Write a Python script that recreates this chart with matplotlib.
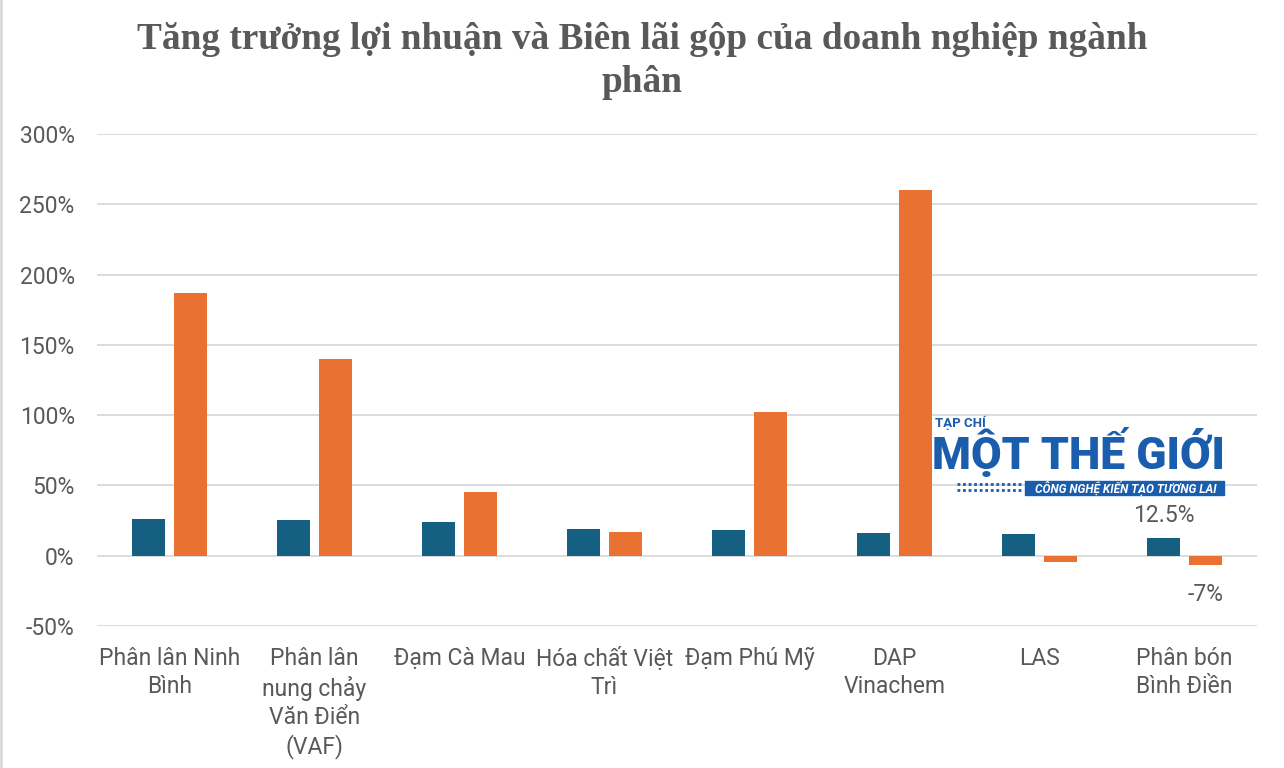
import numpy as np
import matplotlib
matplotlib.use("Agg")
import matplotlib.pyplot as plt
from matplotlib.patches import Rectangle
from matplotlib.lines import Line2D

# data (%)
categories = ["Phân lân Ninh\nBình", "Phân lân\nnung chảy\nVăn Điển\n(VAF)", "Đạm Cà Mau",
              "Hóa chất Việt\nTrì", "Đạm Phú Mỹ", "DAP\nVinachem", "LAS", "Phân bón\nBình Điền"]
bien_lai_gop = [26.3, 25.0, 24.0, 19.0, 18.0, 16.4, 15.4, 12.5]
tang_truong_ln = [187, 140, 45, 16.5, 102, 260, -4.3, -7.0]
yticks = [-50, 0, 50, 100, 150, 200, 250, 300]

BLUE = "#156082"
ORANGE = "#E97132"
TEXT = "#595959"
GRID = "#D9D9D9"


def main():
    fig = plt.figure(figsize=(12.84, 7.68), dpi=100)
    ax = fig.add_axes([0.0755, 0.185, 0.9035, 0.6406])

    x = np.arange(len(categories))
    w = 0.228
    off = 0.145
    ax.bar(x - off, bien_lai_gop, width=w, color=BLUE, zorder=3)
    ax.bar(x + off, tang_truong_ln, width=w, color=ORANGE, zorder=3)

    ax.set_xlim(-0.5, len(categories) - 0.5)
    ax.set_ylim(-50, 300)
    ax.set_yticks(yticks)
    ax.set_yticklabels([f"{v}%" for v in yticks])
    ax.set_xticks(x)
    ax.set_xticklabels(categories, linespacing=1.29)
    ax.grid(axis="y", color=GRID, linewidth=1.3, zorder=0)
    for s in ax.spines.values():
        s.set_visible(False)
    ax.tick_params(axis="both", length=0, colors=TEXT, labelsize=16.5)
    ax.tick_params(axis="y", pad=16)
    ax.tick_params(axis="x", pad=15)
    for lbl in ax.get_xticklabels() + ax.get_yticklabels():
        lbl.set_family("Roboto")

    # data labels on the last category
    ax.text(x[-1] - off, bien_lai_gop[-1] + 16, "12.5%", ha="center", va="center",
            fontsize=16.5, color=TEXT, family="Roboto")
    ax.text(x[-1] + off, tang_truong_ln[-1] - 21, "-7%", ha="center", va="center",
            fontsize=16.5, color=TEXT, family="Roboto")

    fig.text(0.5, 1 - 61 / 768, "Tăng trưởng lợi nhuận và Biên lãi gộp của doanh nghiệp ngành\nphân",
             ha="center", va="center", fontsize=26.8, fontweight="bold", color=TEXT,
             family="Liberation Serif", linespacing=1.3)

    # watermark logo
    fig.text(935 / 1284, 1 - 423 / 768, "TẠP CHÍ", fontsize=9.5, fontweight="bold",
             color="#1A5DAD", va="center", family="Roboto")
    fig.text(932 / 1284, 1 - 453 / 768, "MỘT THẾ GIỚI", fontsize=32, fontweight="black",
             color="#1A5DAD", va="center", family="Roboto")
    fig.patches.append(Rectangle((1025 / 1284, 1 - 495 / 768), 199 / 1284, 14 / 768,
                                 transform=fig.transFigure, color="#1A5DAD", zorder=5))
    fig.text(1126 / 1284, 1 - 488 / 768, "CÔNG NGHỆ KIẾN TẠO TƯƠNG LAI", fontsize=8.6,
             fontweight="bold", style="italic", color="white", ha="center", va="center",
             family="Roboto", zorder=6)
    for yy in (484, 490):
        fig.lines.append(Line2D([957 / 1284, 1023 / 1284], [1 - yy / 768] * 2,
                                transform=fig.transFigure, color="#1A5DAD",
                                linestyle=(0, (1, 1)), linewidth=2))

    # left edge border
    fig.lines.append(Line2D([0.001, 0.001], [0, 1], transform=fig.transFigure,
                            color=GRID, linewidth=2))

    fig.savefig("out.png", dpi=100)


if __name__ == "__main__":
    main()
